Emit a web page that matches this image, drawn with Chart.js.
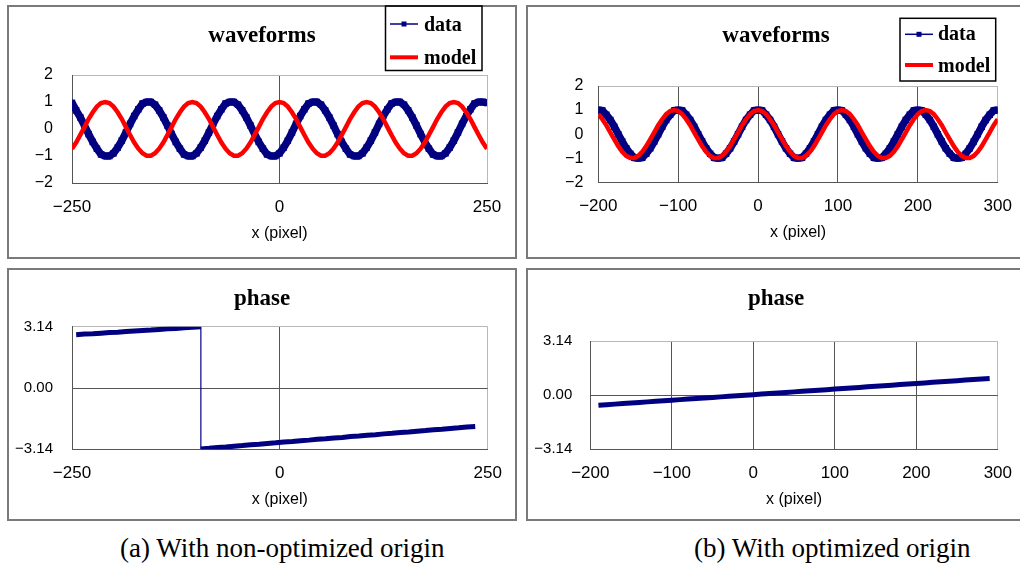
<!DOCTYPE html>
<html>
<head>
<meta charset="utf-8">
<script src="https://cdn.jsdelivr.net/npm/chart.js@4.4.1/dist/chart.umd.min.js"></script>
<style>
  html, body { margin: 0; padding: 0; background: #fff; }
  body { width: 1020px; height: 568px; position: relative; overflow: hidden; }
  .frame { position: absolute; box-sizing: border-box; border: 2px solid #7a7a7a; }
  .plot { position: absolute; }
  .caption { position: absolute; top: 533px; font-family: 'Liberation Serif', 'Times New Roman', serif;
             font-size: 27px; line-height: 30px; white-space: nowrap; color: #000; }
</style>
</head>
<body>
<div class="frame" style="left:7px;top:5px;width:510px;height:254px"></div>
<div class="plot"  style="left:7px;top:5px;width:510px;height:254px"><canvas id="waveA"></canvas></div>
<div class="frame" style="left:526px;top:5px;width:500px;height:254px"></div>
<div class="plot"  style="left:526px;top:5px;width:500px;height:254px"><canvas id="waveB"></canvas></div>
<div class="frame" style="left:7px;top:268px;width:510px;height:253px"></div>
<div class="plot"  style="left:7px;top:268px;width:510px;height:253px"><canvas id="phaseAChart"></canvas></div>
<div class="frame" style="left:526px;top:268px;width:500px;height:253px"></div>
<div class="plot"  style="left:526px;top:268px;width:500px;height:253px"><canvas id="phaseBChart"></canvas></div>
<div class="caption" style="left:120px">(a) With non-optimized origin</div>
<div class="caption" style="left:694px">(b) With optimized origin</div>

<script>
// ---- x positions (pixel) ----
const xA = [-250,-245,-240,-235,-230,-225,-220,-215,-210,-205,-200,-195,-190,-185,-180,-175,-170,-165,-160,-155,
  -150,-145,-140,-135,-130,-125,-120,-115,-110,-105,-100,-95,-90,-85,-80,-75,-70,-65,-60,-55,
  -50,-45,-40,-35,-30,-25,-20,-15,-10,-5,0,5,10,15,20,25,30,35,40,45,
  50,55,60,65,70,75,80,85,90,95,100,105,110,115,120,125,130,135,140,145,
  150,155,160,165,170,175,180,185,190,195,200,205,210,215,220,225,230,235,240,245,250];
const xB = [-200,-195,-190,-185,-180,-175,-170,-165,-160,-155,-150,-145,-140,-135,-130,-125,-120,-115,-110,-105,
  -100,-95,-90,-85,-80,-75,-70,-65,-60,-55,-50,-45,-40,-35,-30,-25,-20,-15,-10,-5,
  0,5,10,15,20,25,30,35,40,45,50,55,60,65,70,75,80,85,90,95,
  100,105,110,115,120,125,130,135,140,145,150,155,160,165,170,175,180,185,190,195,
  200,205,210,215,220,225,230,235,240,245,250,255,260,265,270,275,280,285,290,295,300];

// ---- waveforms, non-optimized origin ----
const dataA = [
  0.97,0.69,0.43,0.13,-0.19,-0.48,-0.73,-0.94,-1.00,-1.00,-0.90,-0.69,-0.43,-0.13,0.19,0.48,0.73,0.94,1.00,1.00,
  0.90,0.69,0.43,0.13,-0.19,-0.48,-0.73,-0.94,-1.00,-1.00,-0.90,-0.69,-0.43,-0.13,0.19,0.48,0.73,0.94,1.00,1.00,
  0.90,0.69,0.43,0.13,-0.19,-0.48,-0.73,-0.94,-1.00,-1.00,-0.90,-0.69,-0.43,-0.13,0.19,0.48,0.73,0.94,1.00,1.00,
  0.90,0.69,0.43,0.13,-0.19,-0.48,-0.73,-0.94,-1.00,-1.00,-0.90,-0.69,-0.43,-0.13,0.19,0.48,0.73,0.94,1.00,1.00,
  0.90,0.69,0.43,0.13,-0.19,-0.48,-0.73,-0.94,-1.00,-1.00,-0.90,-0.69,-0.43,-0.13,0.19,0.48,0.73,0.94,1.00,1.00,
  0.97];
const modelA = [
  -0.73,-0.50,-0.22,0.07,0.37,0.62,0.83,0.96,
  1.00,0.96,0.83,0.62,0.37,0.07,-0.22,-0.50,-0.73,-0.90,-0.99,-0.99,-0.90,-0.73,-0.50,-0.22,0.07,0.37,0.62,0.83,0.96,
  1.00,0.96,0.83,0.62,0.37,0.07,-0.22,-0.50,-0.73,-0.90,-0.99,-0.99,-0.90,-0.73,-0.50,-0.22,0.07,0.37,0.62,0.83,0.96,
  1.00,0.96,0.83,0.62,0.37,0.07,-0.22,-0.50,-0.73,-0.90,-0.99,-0.99,-0.90,-0.73,-0.50,-0.22,0.07,0.37,0.62,0.83,0.96,
  1.00,0.96,0.83,0.62,0.37,0.07,-0.22,-0.50,-0.73,-0.90,-0.99,-0.99,-0.90,-0.73,-0.50,-0.22,0.07,0.37,0.62,0.83,0.96,
  1.00,0.96,0.83,0.62,0.37,0.07,-0.22,-0.50,-0.73];

// ---- waveforms, optimized origin ----
const dataB = [
  1.00,0.98,0.81,0.59,0.31,0.00,-0.31,-0.59,-0.81,-0.98,-1.00,-0.98,-0.81,-0.59,-0.31,0.00,0.31,0.59,0.81,0.98,
  1.00,0.98,0.81,0.59,0.31,0.00,-0.31,-0.59,-0.81,-0.98,-1.00,-0.98,-0.81,-0.59,-0.31,0.00,0.31,0.59,0.81,0.98,
  1.00,0.98,0.81,0.59,0.31,0.00,-0.31,-0.59,-0.81,-0.98,-1.00,-0.98,-0.81,-0.59,-0.31,0.00,0.31,0.59,0.81,0.98,
  1.00,0.98,0.81,0.59,0.31,0.00,-0.31,-0.59,-0.81,-0.98,-1.00,-0.98,-0.81,-0.59,-0.31,0.00,0.31,0.59,0.81,0.98,
  1.00,0.98,0.81,0.59,0.31,0.00,-0.31,-0.59,-0.81,-0.98,-1.00,-0.98,-0.81,-0.59,-0.31,0.00,0.31,0.59,0.81,0.98,
  1.00];
const modelB = [
  0.83,0.62,0.37,0.07,-0.22,-0.50,-0.73,-0.90,-0.99,-0.99,-0.90,-0.73,-0.50,-0.22,0.07,0.37,0.62,0.83,0.96,
  1.00,0.96,0.83,0.62,0.37,0.07,-0.22,-0.50,-0.73,-0.90,-0.99,-0.99,-0.90,-0.73,-0.50,-0.22,0.07,0.37,0.62,0.83,0.96,
  1.00,0.96,0.83,0.62,0.37,0.07,-0.22,-0.50,-0.73,-0.90,-0.99,-0.99,-0.90,-0.73,-0.50,-0.22,0.07,0.37,0.62,0.83,0.96,
  1.00,0.96,0.83,0.62,0.37,0.07,-0.22,-0.50,-0.73,-0.90,-0.99,-0.99,-0.90,-0.73,-0.50,-0.22,0.07,0.37,0.62,0.83,0.96,
  1.00,0.96,0.83,0.62,0.37,0.07,-0.22,-0.50,-0.73,-0.90,-0.99,-0.99,-0.90,-0.73,-0.50,-0.22,0.07,0.37,0.62];

// ---- phase (rad) ----
const phaseAx = [-245,-235,-225,-215,-205,-195,-185,-175,-165,-155,-145,-135,-125,-115,-105,-95,
  -95,-85,-75,-65,-55,-45,-35,-25,-15,-5,5,15,25,35,45,55,65,75,85,95,105,115,125,135,145,155,165,175,185,195,205,215,225,235];
const phaseA = [2.73,2.76,2.78,2.81,2.84,2.86,2.89,2.92,2.95,2.97,3.00,3.03,3.05,3.08,3.11,3.14,
  -3.12,-3.09,-3.05,-3.02,-2.98,-2.95,-2.91,-2.88,-2.84,-2.81,-2.77,-2.74,-2.70,-2.67,-2.63,-2.60,-2.56,
  -2.53,-2.49,-2.46,-2.42,-2.39,-2.35,-2.32,-2.28,-2.25,-2.21,-2.18,-2.14,-2.11,-2.07,-2.04,-2.00,-1.97];
const phaseBx = [-190,-180,-170,-160,-150,-140,-130,-120,-110,-100,-90,-80,-70,-60,-50,-40,-30,-20,-10,
  0,10,20,30,40,50,60,70,80,90,100,110,120,130,140,150,160,170,180,190,200,210,220,230,240,250,260,270,280,290];
const phaseB = [-0.59,-0.56,-0.52,-0.49,-0.46,-0.43,-0.39,-0.36,-0.33,-0.30,-0.26,-0.23,-0.20,-0.17,-0.13,-0.10,-0.07,-0.04,0.00,
  0.03,0.06,0.10,0.13,0.16,0.19,0.23,0.26,0.29,0.32,0.36,0.39,0.42,0.45,0.49,0.52,0.55,0.58,0.62,0.65,0.68,
  0.71,0.75,0.78,0.81,0.84,0.88,0.91,0.94,0.97];

// ---- tick labels ----
const xTicksA = [-250, 0, 250];
const xTicksB = [-200, -100, 0, 100, 200, 300];
const waveYTicks = [-2, -1, 0, 1, 2];
const phaseYTicks = [-3.14, 0, 3.14];
const xTitle = 'x (pixel)';

const SANS = "'Liberation Sans', Arial, sans-serif";
const SERIF = "'Liberation Serif', 'Times New Roman', serif";
const NAVY = '#000080';
const RED = '#ff0000';
const DARK = '#555555';
const LIGHT = '#b8b8b8';
const CLEAR = 'rgba(0,0,0,0)';

const minus = s => String(s).replace('-', '\u2212');
const toPoints = (xs, ys) => xs.map((x, i) => ({ x: x, y: ys[i] }));

// Title and boxed legend drawn at fixed spots inside each panel
const panelDecor = {
  id: 'panelDecor',
  afterDraw(chart, args, o) {
    const ctx = chart.ctx;
    ctx.save();
    ctx.fillStyle = '#000';
    ctx.font = 'bold 23px ' + SERIF;
    ctx.textAlign = 'center';
    ctx.textBaseline = 'alphabetic';
    ctx.fillText(o.title, chart.width / 2, 37);
    const L = o.legend;
    if (L) {
      ctx.strokeStyle = '#000';
      ctx.lineWidth = 1.5;
      ctx.strokeRect(L.box[0], L.box[1], L.box[2] - L.box[0], L.box[3] - L.box[1]);
      ctx.font = 'bold 20px ' + SERIF;
      ctx.textAlign = 'left';
      chart.data.datasets.forEach((ds, i) => {
        const row = L.rows[i];
        ctx.strokeStyle = ds.borderColor;
        ctx.lineWidth = ds.label === 'data' ? 1.5 : 4;
        ctx.beginPath();
        ctx.moveTo(L.lineX[0], row.y);
        ctx.lineTo(L.lineX[1], row.y);
        ctx.stroke();
        if (ds.label === 'data') {
          const cx = (L.lineX[0] + L.lineX[1]) / 2;
          ctx.fillStyle = ds.borderColor;
          ctx.fillRect(cx - 2.5, row.y - 2.5, 5, 5);
        }
        ctx.fillStyle = '#000';
        ctx.fillText(ds.label, L.textX, row.base);
      });
    }
    ctx.restore();
  }
};

function buildChart(id, cfg) {
  const xMin = cfg.xTicks[0], xMax = cfg.xTicks[cfg.xTicks.length - 1];
  const yMin = cfg.yTicks[0], yMax = cfg.yTicks[cfg.yTicks.length - 1];
  return new Chart(document.getElementById(id), {
    type: 'line',
    data: { datasets: cfg.datasets },
    options: {
      responsive: true,
      maintainAspectRatio: false,
      animation: false,
      devicePixelRatio: 1,
      events: [],
      layout: { padding: cfg.pad },
      plugins: { legend: { display: false }, tooltip: { enabled: false }, panelDecor: cfg.decor },
      scales: {
        x: {
          type: 'linear', min: xMin, max: xMax,
          afterBuildTicks: s => { s.ticks = cfg.xTicks.map(v => ({ value: v })); },
          afterFit: s => { s.height = 61; },
          grid: { drawTicks: false, lineWidth: 1,
                  color: c => c.tick.value === xMax ? LIGHT : (c.tick.value === xMin ? CLEAR : DARK) },
          border: { color: DARK, width: 1 },
          ticks: { padding: 14, color: '#000', font: { family: SANS, size: 17 },
                   maxRotation: 0, autoSkip: false, callback: v => minus(v) },
          title: { display: true, text: xTitle, color: '#000', font: { family: SANS, size: 16 },
                   padding: { top: 0, bottom: 1 } }
        },
        y: {
          type: 'linear', min: yMin, max: yMax,
          afterBuildTicks: s => { s.ticks = cfg.yTicks.map(v => ({ value: v })); },
          afterFit: s => { s.width = 60; },
          grid: { drawTicks: false, lineWidth: 1,
                  color: c => c.tick.value === yMax ? LIGHT : (cfg.zeroLine && c.tick.value === 0 ? DARK : CLEAR) },
          border: { color: DARK, width: 1 },
          ticks: { padding: cfg.yPad, color: '#000', font: { family: SANS, size: cfg.yFont },
                   autoSkip: false, callback: cfg.yFmt }
        }
      }
    },
    plugins: [panelDecor]
  });
}

const dataStyle = { label: 'data', borderColor: NAVY, backgroundColor: NAVY, borderWidth: 7.5,
  pointStyle: 'rect', pointRadius: 4.6, pointBorderWidth: 0, pointBackgroundColor: NAVY, tension: 0, order: 1 };
const modelStyle = { label: 'model', borderColor: RED, backgroundColor: RED, borderWidth: 4.5,
  pointRadius: 0, tension: 0, order: 0 };
const phaseStyle = { label: 'phase', borderColor: NAVY, backgroundColor: NAVY, borderWidth: 5,
  pointRadius: 0, tension: 0,
  segment: { borderWidth: c => c.p0.parsed.x === c.p1.parsed.x ? 1.2 : 5 } };

const waveFmt = v => minus(v);
const phaseFmt = v => minus(Number(v).toFixed(2));

buildChart('waveA', {
  datasets: [Object.assign({}, dataStyle, { data: toPoints(xA, dataA) }),
             Object.assign({}, modelStyle, { data: toPoints(xA, modelA) })],
  xTicks: xTicksA, yTicks: waveYTicks, yFmt: waveFmt, yPad: 19, yFont: 16, zeroLine: false,
  pad: { left: 5, right: 30, top: 70, bottom: 15 },
  decor: { title: 'waveforms',
           legend: { box: [378.5, 1, 475, 65.5], lineX: [383, 411], textX: 417,
                     rows: [{ y: 19, base: 25.7 }, { y: 52.3, base: 59 }] } }
});

buildChart('waveB', {
  datasets: [Object.assign({}, dataStyle, { data: toPoints(xB, dataB) }),
             Object.assign({}, modelStyle, { data: toPoints(xB, modelB) })],
  xTicks: xTicksB, yTicks: waveYTicks, yFmt: waveFmt, yPad: 15, yFont: 16, zeroLine: false,
  pad: { left: 12.3, right: 28.3, top: 81, bottom: 15.7 },
  decor: { title: 'waveforms',
           legend: { box: [374, 13.3, 469.7, 76], lineX: [379, 407], textX: 412,
                     rows: [{ y: 29.3, base: 35 }, { y: 60, base: 66.7 }] } }
});

buildChart('phaseAChart', {
  datasets: [Object.assign({}, phaseStyle, { data: toPoints(phaseAx, phaseA) })],
  xTicks: xTicksA, yTicks: phaseYTicks, yFmt: phaseFmt, yPad: 19, yFont: 15, zeroLine: true,
  pad: { left: 5, right: 29.3, top: 58.7, bottom: 10.7 },
  decor: { title: 'phase' }
});

buildChart('phaseBChart', {
  datasets: [Object.assign({}, phaseStyle, { data: toPoints(phaseBx, phaseB) })],
  xTicks: xTicksB, yTicks: phaseYTicks, yFmt: phaseFmt, yPad: 18, yFont: 15, zeroLine: true,
  pad: { left: 4.3, right: 26, top: 73, bottom: 10.7 },
  decor: { title: 'phase' }
});
</script>
</body>
</html>
